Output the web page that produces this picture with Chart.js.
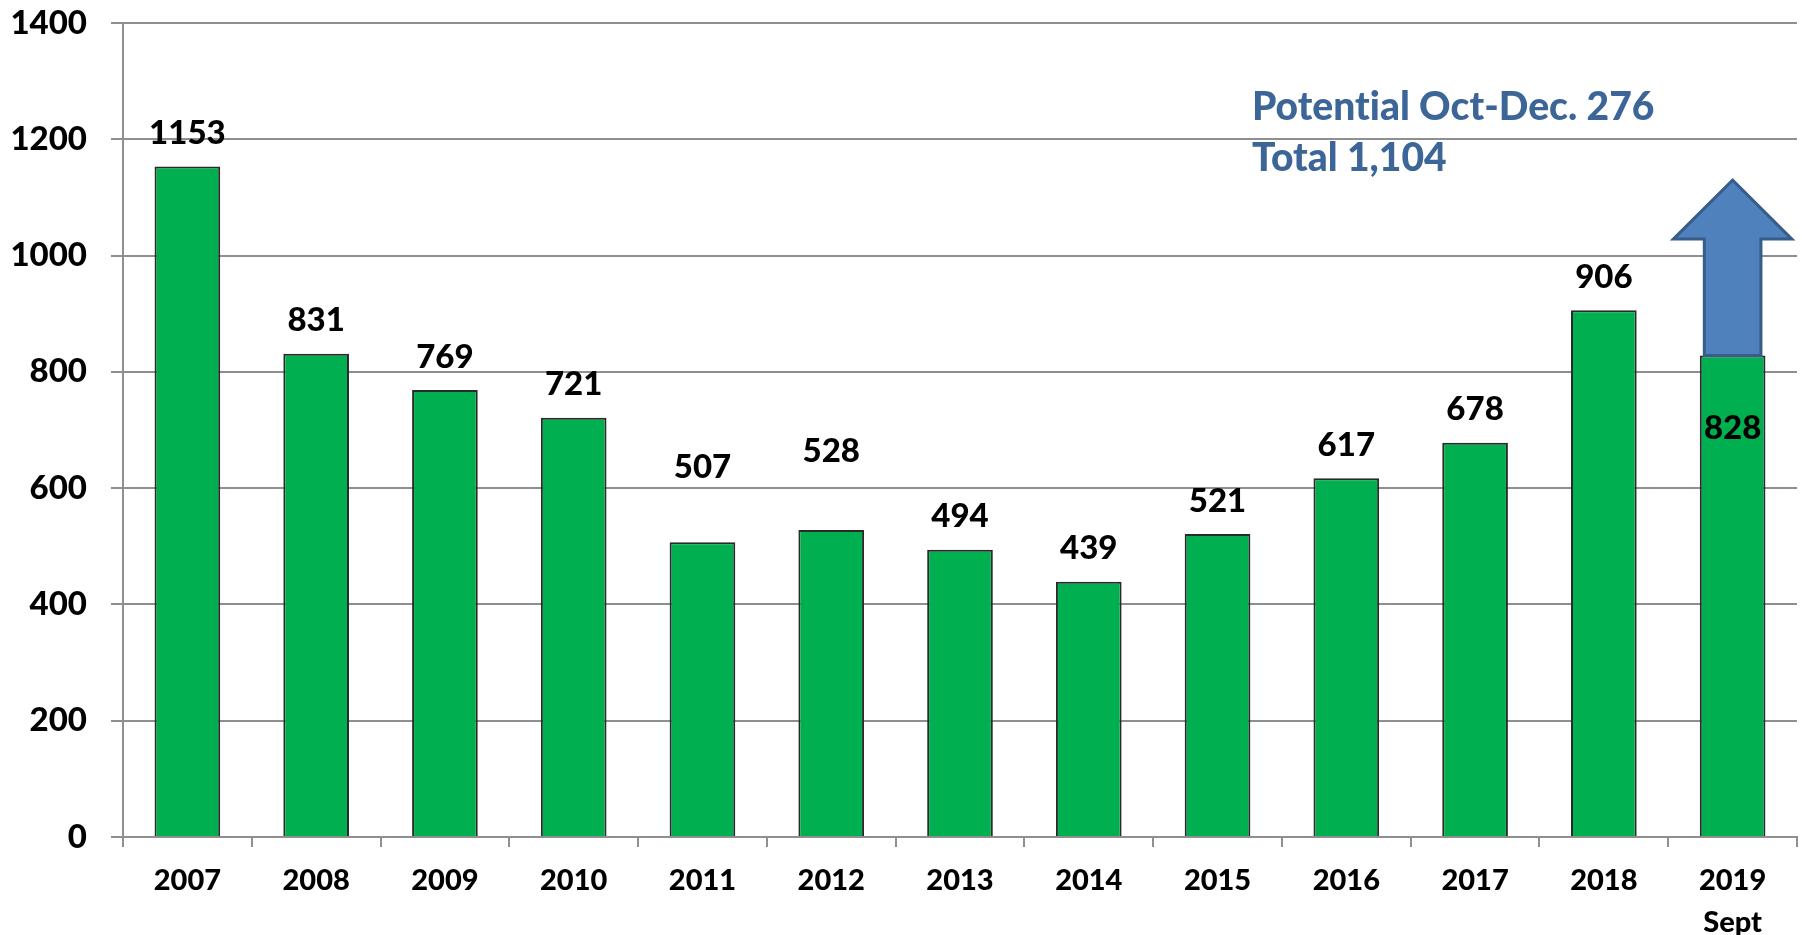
<!DOCTYPE html>
<html>
<head>
<meta charset="utf-8">
<script src="https://cdn.jsdelivr.net/npm/chart.js@4.4.1/dist/chart.umd.min.js"></script>
<style>
    html, body { margin: 0; padding: 0; background: #fff; }
</style>
</head>
<body>
<canvas id="chart" width="1802" height="935"></canvas>
<script>
const years = ['2007', '2008', '2009', '2010', '2011', '2012', '2013', '2014', '2015', '2016', '2017', '2018', ['2019', 'Sept']];
const counts = [1153, 831, 769, 721, 507, 528, 494, 439, 521, 617, 678, 906, 828];
const yTicks = [0, 200, 400, 600, 800, 1000, 1200, 1400];
const potentialExtra = 276;
const noteLines = ['Potential Oct-Dec. 276', 'Total 1,104'];

const FONT = 'Lato, "Open Sans", sans-serif';
const GRID = '#8f8f8f';

// a few labels were nudged by hand in the original
const labelNudge = { 4: 42, 5: 46, 12: -106 };

const valueLabels = {
    id: 'valueLabels',
    afterDatasetsDraw(chart) {
        const ctx = chart.ctx;
        const meta = chart.getDatasetMeta(0);
        ctx.save();
        ctx.font = `900 33px ${FONT}`;
        ctx.fillStyle = '#000';
        ctx.textAlign = 'center';
        ctx.textBaseline = 'middle';
        meta.data.forEach((bar, i) => {
            const y = bar.y - 33 - (labelNudge[i] || 0);
            ctx.fillText(String(counts[i]), bar.x, y);
        });
        ctx.restore();
    }
};

const potentialArrow = {
    id: 'potentialArrow',
    afterDatasetsDraw(chart) {
        const ctx = chart.ctx;
        const xs = chart.scales.x;
        const ys = chart.scales.y;
        const last = counts.length - 1;
        const cx = xs.getPixelForValue(last);
        const cw = xs.getPixelForValue(1) - xs.getPixelForValue(0);
        const base = ys.getPixelForValue(counts[last]);
        const tip = ys.getPixelForValue(counts[last] + potentialExtra) - 15;
        const headLen = 59;
        const headHalf = cw * 0.46;
        const shaftHalf = cw * 0.22;

        ctx.save();
        ctx.beginPath();
        ctx.moveTo(cx - shaftHalf, base);
        ctx.lineTo(cx - shaftHalf, tip + headLen);
        ctx.lineTo(cx - headHalf, tip + headLen);
        ctx.lineTo(cx, tip);
        ctx.lineTo(cx + headHalf, tip + headLen);
        ctx.lineTo(cx + shaftHalf, tip + headLen);
        ctx.lineTo(cx + shaftHalf, base);
        ctx.closePath();
        ctx.fillStyle = '#4f81bd';
        ctx.fill();
        ctx.lineWidth = 3;
        ctx.lineJoin = 'miter';
        ctx.strokeStyle = '#385d8a';
        ctx.stroke();

        ctx.font = `900 39px ${FONT}`;
        ctx.letterSpacing = '0.01px'; // stops the "ti" ligature
        ctx.fillStyle = '#3c6598';
        ctx.textAlign = 'left';
        ctx.textBaseline = 'middle';
        ctx.fillText(noteLines[0], 1252, 107);
        ctx.fillText(noteLines[1], 1252, 158);
        ctx.restore();
    }
};

const ctx = document.getElementById('chart').getContext('2d');
new Chart(ctx, {
    type: 'bar',
    data: {
        labels: years,
        datasets: [{
            data: counts,
            backgroundColor: '#00b050',
            borderColor: '#2a2a2a',
            borderWidth: 2,
            borderSkipped: 'bottom',
            barPercentage: 0.51,
            categoryPercentage: 1.0
        }]
    },
    options: {
        responsive: false,
        animation: false,
        layout: { padding: { top: 23, right: 5, left: 0, bottom: 0 } },
        plugins: {
            legend: { display: false },
            tooltip: { enabled: false }
        },
        scales: {
            x: {
                afterFit(scale) { scale.height = 98; },
                grid: {
                    drawOnChartArea: false,
                    drawTicks: true,
                    tickLength: 10,
                    color: GRID,
                    lineWidth: 2
                },
                border: { display: true, color: GRID, width: 2 },
                ticks: {
                    color: '#000',
                    padding: 13,
                    maxRotation: 0,
                    autoSkip: false,
                    font: { family: FONT, size: 29, weight: '900', lineHeight: 1.45 }
                }
            },
            y: {
                min: 0,
                max: 1400,
                afterFit(scale) {
                    scale.width = 123;
                    scale.paddingTop = 0;
                    scale.paddingBottom = 0;
                },
                afterBuildTicks(scale) { scale.ticks = yTicks.map(v => ({ value: v })); },
                grid: {
                    color: GRID,
                    lineWidth: 2,
                    tickLength: 12
                },
                border: { display: true, color: GRID, width: 2 },
                ticks: {
                    color: '#000',
                    padding: 24,
                    callback: v => String(v),
                    font: { family: FONT, size: 33, weight: '900' }
                }
            }
        }
    },
    plugins: [valueLabels, potentialArrow]
});
</script>
</body>
</html>
